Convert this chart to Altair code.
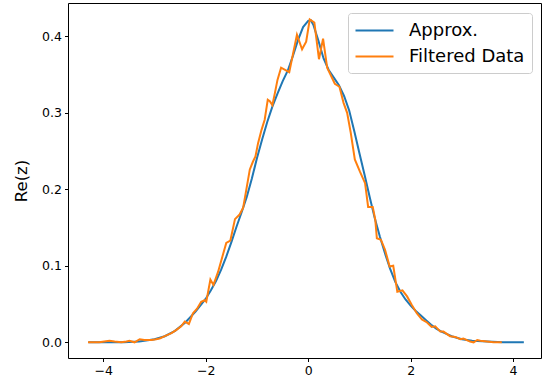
import altair as alt
import pandas as pd

# Smooth approximation curve
approx_x = [-4.29, -3.6, -3.3, -3.0, -2.8, -2.6, -2.4, -2.2, -2.0,
            -1.9, -1.8, -1.7, -1.6, -1.5, -1.4, -1.3, -1.2, -1.1, -1.0,
            -0.9, -0.8, -0.7, -0.6, -0.5, -0.4, -0.3, -0.2, -0.1,
            0.0, 0.05,
            0.1, 0.2, 0.3, 0.4, 0.5, 0.6, 0.7, 0.8, 0.9, 1.0,
            1.1, 1.2, 1.3, 1.4, 1.5, 1.6, 1.7, 1.8, 1.9, 2.0,
            2.1, 2.2, 2.3, 2.4, 2.5, 2.6, 2.7, 2.8,
            3.0, 3.2, 3.5, 3.8, 4.21]
approx_y = [0.000, 0.000, 0.001, 0.004, 0.008, 0.015, 0.026, 0.040, 0.057,
            0.068, 0.080, 0.095, 0.112, 0.131, 0.151, 0.170, 0.190, 0.214, 0.241,
            0.265, 0.288, 0.308, 0.325, 0.341, 0.355, 0.374, 0.395, 0.412,
            0.420, 0.421,
            0.415, 0.394, 0.371, 0.356, 0.346, 0.336, 0.322, 0.303, 0.276, 0.247,
            0.219, 0.190, 0.162, 0.138, 0.116, 0.096, 0.079, 0.066, 0.056, 0.048,
            0.041, 0.035, 0.029, 0.023, 0.018, 0.014, 0.011, 0.008,
            0.004, 0.002, 0.001, 0.000, 0.000]

# Noisy filtered data
filt_x = [-4.30, -4.17, -4.08, -3.98, -3.88, -3.78, -3.65, -3.55, -3.49, -3.39,
          -3.29, -3.20, -3.06, -2.97, -2.90, -2.80, -2.67, -2.58, -2.48, -2.41,
          -2.33, -2.25, -2.17, -2.09, -2.02, -1.99, -1.91, -1.85, -1.76, -1.60,
          -1.52, -1.43, -1.34, -1.27, -1.21, -1.14, -1.08, -1.03, -0.98, -0.91,
          -0.85, -0.79, -0.75, -0.70, -0.65, -0.60, -0.53, -0.37, -0.22, -0.12,
          -0.04, 0.03, 0.12, 0.21, 0.29, 0.37, 0.52, 0.61, 0.69, 0.76,
          0.83, 0.91, 1.01, 1.11, 1.17, 1.26, 1.31, 1.34, 1.42, 1.50,
          1.59, 1.66, 1.74, 1.84, 1.93, 2.02, 2.12, 2.22, 2.32, 2.41,
          2.48, 2.58, 2.64, 2.77, 2.87, 2.97, 3.03, 3.16, 3.23, 3.30,
          3.36, 3.49, 3.62, 3.78]
filt_y = [0.000, 0.000, 0.000, 0.001, 0.002, 0.001, 0.000, 0.001, 0.002, 0.000,
          0.004, 0.003, 0.003, 0.004, 0.005, 0.008, 0.012, 0.016, 0.021, 0.027,
          0.024, 0.038, 0.044, 0.053, 0.055, 0.053, 0.082, 0.075, 0.092, 0.130,
          0.133, 0.161, 0.167, 0.176, 0.199, 0.226, 0.236, 0.243, 0.260, 0.278,
          0.291, 0.317, 0.315, 0.310, 0.326, 0.343, 0.359, 0.353, 0.402, 0.383,
          0.393, 0.422, 0.418, 0.370, 0.397, 0.359, 0.338, 0.334, 0.313, 0.300,
          0.274, 0.239, 0.223, 0.208, 0.177, 0.177, 0.160, 0.136, 0.134, 0.121,
          0.099, 0.100, 0.066, 0.068, 0.060, 0.049, 0.038, 0.030, 0.026, 0.020,
          0.021, 0.014, 0.014, 0.008, 0.007, 0.004, 0.005, 0.001, 0.000, 0.003,
          0.002, 0.001, 0.000, 0.000]

series_names = ["Approx.", "Filtered Data"]
series_colors = ["#1f77b4", "#ff7f0e"]

df_a = pd.DataFrame({"x": approx_x, "y": approx_y, "series": series_names[0]})
df_f = pd.DataFrame({"x": filt_x, "y": filt_y, "series": series_names[1]})

FONT = "DejaVu Sans"

xenc = alt.X("x:Q",
             scale=alt.Scale(domain=[-4.69, 4.545], nice=False, zero=False),
             axis=alt.Axis(values=[-4, -2, 0, 2, 4], title=None, grid=False,
                           labelExpr="replace(datum.label, '-', '\u2212')"))
yenc = alt.Y("y:Q",
             scale=alt.Scale(domain=[-0.0205, 0.4435], nice=False, zero=False),
             axis=alt.Axis(values=[0.0, 0.1, 0.2, 0.3, 0.4], format=".1f",
                           title="Re(z)", grid=False))

color_scale = alt.Scale(domain=series_names, range=series_colors)
legend = alt.Legend(orient="none", legendX=280, legendY=10, title=None,
                    symbolType="M-2,0H2", symbolSize=361, symbolStrokeWidth=2,
                    labelFontSize=18, labelFont=FONT, labelColor="#000000",
                    padding=7, fillColor="white", strokeColor="#cccccc",
                    cornerRadius=3, rowPadding=6, labelOffset=24, symbolOffset=9)

line_a = alt.Chart(df_a).mark_line(strokeWidth=2).encode(
    x=xenc, y=yenc, color=alt.Color("series:N", scale=color_scale, legend=legend))
line_f = alt.Chart(df_f).mark_line(strokeWidth=2).encode(
    x=xenc, y=yenc, color=alt.Color("series:N", scale=color_scale, legend=legend))

chart = alt.layer(line_a, line_f).properties(
    width=473, height=355,
    background="white",
    autosize=alt.AutoSizeParams(type="none"),
    padding={"left": 68, "top": 3, "right": 4, "bottom": 28},
).configure_view(
    stroke="#000000", strokeWidth=1
).configure_axis(
    domain=False, tickColor="#000000", tickSize=3.5, tickWidth=1,
    labelFont=FONT, labelFontSize=12.5, labelColor="#000000", labelPadding=3,
    titleFont=FONT, titleFontSize=16.5, titleFontWeight="normal",
    titleColor="#000000", titlePadding=12
)

chart.save("out.html", embed_options={"renderer": "svg", "actions": False})
